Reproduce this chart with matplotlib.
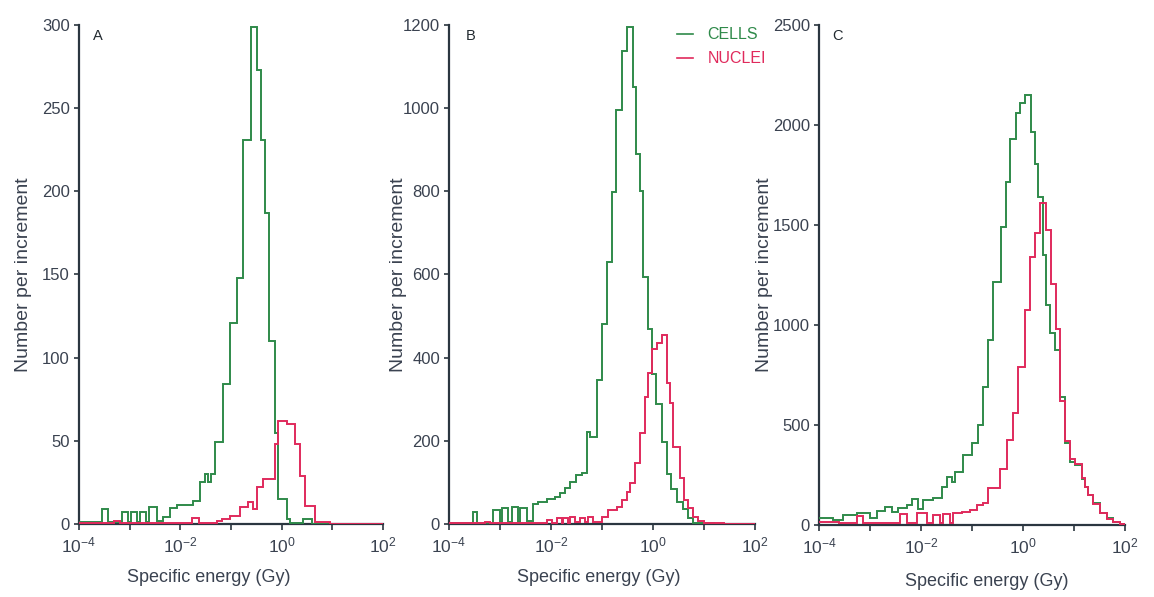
import numpy as np
import matplotlib
matplotlib.use("Agg")
import matplotlib.pyplot as plt
from matplotlib.lines import Line2D
from matplotlib.ticker import FixedLocator, FuncFormatter, NullLocator

plt.rcParams['font.family'] = ['Liberation Sans', 'DejaVu Sans']
plt.rcParams['mathtext.default'] = 'regular'

GREEN = '#2f8a4a'
RED = '#e02a5c'
AXIS = '#2b3640'
TEXT = '#3a4250'

# bin edges as log10(specific energy / Gy), counts per increment
a_cells_exp = [-4.0, -3.55, -3.43, -3.15, -3.03, -2.97, -2.86, -2.80, -2.68, -2.62, -2.46,
               -2.34, -2.20, -2.07, -1.75, -1.61, -1.51, -1.45, -1.40, -1.32, -1.16, -1.02,
               -0.88, -0.76, -0.61, -0.49, -0.41, -0.33, -0.25, -0.13, -0.07, 0.10, 0.16,
               0.42, 0.60, 2.0]
a_cells_n = [1, 9, 1, 7, 1, 7, 1, 7, 1, 10, 2, 4.5, 9.5, 11.5, 14, 25, 30, 25, 30, 49, 84,
             121, 148, 231, 299, 273, 231, 187, 110, 55, 15, 3, 0.5, 3, 0]

a_nuclei_exp = [-4.0, -3.3, -3.2, -1.76, -1.64, -1.28, -1.18, -1.02, -0.82, -0.66, -0.56,
                -0.49, -0.37, -0.13, -0.07, 0.10, 0.26, 0.36, 0.46, 0.66, 0.95, 2.0]
a_nuclei_n = [0.5, 2, 0.5, 3.5, 0.5, 2, 3, 5, 10, 13, 9, 22, 27, 48, 62, 60, 48, 29, 11, 1, 0]

b_cells_exp = [-4.0, -3.52, -3.46, -3.13, -3.0, -2.967, -2.837, -2.77, -2.64, -2.61, -2.48,
               -2.35, -2.25, -2.085, -1.92, -1.82, -1.73, -1.63, -1.50, -1.40, -1.30, -1.235,
               -1.10, -1.006, -0.908, -0.81, -0.72, -0.614, -0.51, -0.386, -0.324, -0.255,
               -0.19, -0.092, -0.025, 0.06, 0.17, 0.27, 0.35, 0.47, 0.59, 0.69, 0.78, 1.2, 2.0]
b_cells_n = [3, 30, 3, 34, 5, 38, 5, 40, 5, 38, 8, 48, 53, 59, 65, 75, 86, 102, 118, 122, 222,
             210, 346, 480, 631, 798, 996, 1138, 1196, 1050, 889, 800, 595, 470, 360, 288,
             196, 120, 85, 52, 36, 15, 3, 1]

b_nuclei_exp = [-4.0, -3.3, -3.2, -2.085, -1.99, -1.89, -1.79, -1.765, -1.667, -1.627, -1.53,
                -1.43, -1.33, -1.275, -1.176, -1.006, -0.876, -0.71, -0.614, -0.51, -0.45,
                -0.353, -0.255, -0.157, -0.092, -0.025, 0.073, 0.17, 0.269, 0.33, 0.40, 0.52,
                0.60, 0.69, 0.79, 0.89, 1.0, 1.4, 2.0]
b_nuclei_n = [2, 6, 2, 10, 3, 14, 3, 14, 3, 18, 4, 14, 4, 18, 5, 18, 34, 42, 58, 78, 98, 146,
              218, 306, 362, 420, 435, 454, 339, 290, 186, 110, 58, 38, 18, 8, 3, 1]

c_cells_exp = [-4.0, -3.72, -3.52, -3.26, -3.0, -2.87, -2.706, -2.575, -2.445, -2.28, -2.18,
               -2.053, -1.955, -1.76, -1.594, -1.496, -1.398, -1.333, -1.17, -1.006, -0.876,
               -0.778, -0.68, -0.58, -0.44, -0.333, -0.255, -0.137, -0.06, 0.039, 0.15, 0.235,
               0.30, 0.386, 0.45, 0.53, 0.627, 0.725, 0.824, 0.922, 1.02, 1.15, 1.216, 1.28,
               1.378, 1.51, 1.64, 1.77, 1.90, 2.0]
c_cells_n = [33, 25, 50, 58, 35, 70, 92, 67, 83, 100, 128, 80, 125, 133, 192, 242, 217, 267,
             350, 408, 500, 692, 925, 1217, 1492, 1717, 1930, 2058, 2108, 2150, 1967, 1805,
             1638, 1350, 1100, 958, 875, 642, 408, 317, 300, 230, 192, 150, 108, 58, 33, 17, 3]

c_nuclei_exp = [-4.0, -3.6, -3.26, -3.14, -2.41, -2.28, -2.08, -1.89, -1.76, -1.63, -1.56,
                -1.43, -1.37, -1.20, -1.04, -0.91, -0.78, -0.68, -0.45, -0.32, -0.19, -0.09,
                0.04, 0.137, 0.235, 0.333, 0.45, 0.543, 0.647, 0.73, 0.82, 0.92, 1.02, 1.15,
                1.216, 1.28, 1.378, 1.51, 1.64, 1.77, 1.90, 2.0]
c_nuclei_n = [15, 8, 45, 8, 55, 8, 58, 8, 50, 8, 55, 8, 58, 67, 75, 100, 108, 185, 280, 425,
              558, 792, 1075, 1340, 1458, 1608, 1475, 1205, 980, 620, 420, 330, 305, 235, 190,
              150, 105, 60, 32, 15, 3]

panel_letters = ["A", "B", "C"]
a_yticks = [0, 50, 100, 150, 200, 250, 300]
b_yticks = [0, 200, 400, 600, 800, 1000, 1200]
c_yticks = [0, 500, 1000, 1500, 2000, 2500]
x_decades = [-4, -3, -2, -1, 0, 1, 2]

panels = [
    (a_cells_exp, a_cells_n, a_nuclei_exp, a_nuclei_n, a_yticks),
    (b_cells_exp, b_cells_n, b_nuclei_exp, b_nuclei_n, b_yticks),
    (c_cells_exp, c_cells_n, c_nuclei_exp, c_nuclei_n, c_yticks),
]

# layout (figure fractions) and label placement per panel
axes_rects = [
    [0.06846, 0.12228, 0.26343, 0.83585],
    [0.38908, 0.12228, 0.26516, 0.83585],
    [0.70971, 0.12060, 0.26516, 0.83750],
]
xlabel_pos = [(0.428, -0.090), (0.490, -0.090), (0.549, -0.095)]
ylabel_pos = [-0.155, -0.137, -0.150]
letter_x = [0.046, 0.056, 0.042]


def decade_label(v, pos):
    e = int(round(np.log10(v)))
    if e % 2:
        return ""
    return "$10^{%d}$" % e


fig = plt.figure(figsize=(11.54, 5.97), dpi=100)

for i, (ce, cn, ne, nn, yt) in enumerate(panels):
    ax = fig.add_axes(axes_rects[i])
    ax.stairs(cn, 10.0 ** np.array(ce), baseline=None, color=GREEN, lw=1.4, zorder=3)
    ax.stairs(nn, 10.0 ** np.array(ne), baseline=None, color=RED, lw=1.4, zorder=4)

    ax.set_xscale("log")
    ax.set_xlim(1e-4, 1e2)
    ax.set_ylim(0, yt[-1])
    ax.xaxis.set_major_locator(FixedLocator([10.0 ** d for d in x_decades]))
    ax.xaxis.set_major_formatter(FuncFormatter(decade_label))
    ax.xaxis.set_minor_locator(NullLocator())
    ax.yaxis.set_major_locator(FixedLocator(yt))

    for s in ["top", "right"]:
        ax.spines[s].set_visible(False)
    for s in ["left", "bottom"]:
        ax.spines[s].set_color(AXIS)
        ax.spines[s].set_linewidth(1.6)
        ax.spines[s].set_zorder(2)
    ax.tick_params(axis="y", direction="out", length=3.5, width=1.2, color=AXIS,
                   labelcolor=TEXT, labelsize=12, pad=3)
    ax.tick_params(axis="x", direction="out", length=4.5, width=1.2, color=AXIS,
                   labelcolor=TEXT, labelsize=12.5, pad=4)

    ax.set_xlabel("Specific energy (Gy)", fontsize=13, color=TEXT)
    ax.xaxis.set_label_coords(*xlabel_pos[i])
    ax.set_ylabel("Number per increment", fontsize=14, color=TEXT)
    ax.yaxis.set_label_coords(ylabel_pos[i], 0.5)

    ax.text(letter_x[i], 0.992, panel_letters[i], transform=ax.transAxes,
            ha="left", va="top", fontsize=10.5, color="#222a30")

    if i == 1:
        handles = [Line2D([], [], color=GREEN, lw=1.2), Line2D([], [], color=RED, lw=1.2)]
        ax.legend(handles, ["CELLS", "NUCLEI"], loc="upper left",
                  bbox_to_anchor=(0.745, 0.995), frameon=False, fontsize=11.5,
                  handlelength=1.0, handletextpad=0.9, labelspacing=0.55,
                  borderpad=0, borderaxespad=0, labelcolor=[GREEN, RED])

fig.savefig("out.png", dpi=100)
